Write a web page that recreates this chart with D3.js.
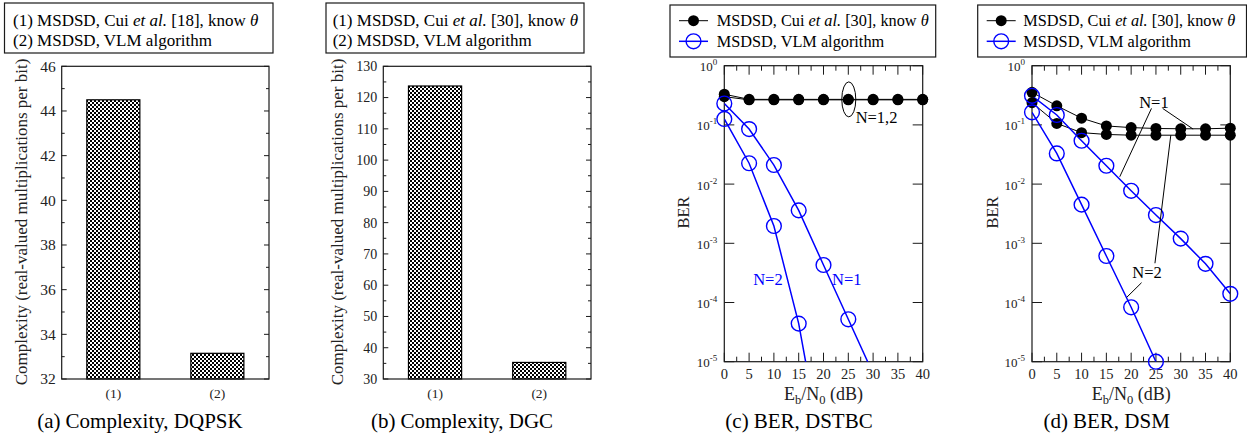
<!DOCTYPE html>
<html>
<head>
<meta charset="utf-8">
<script src="https://cdn.jsdelivr.net/npm/d3@7"></script>
<style>
body { margin: 0; background: #fff; }
svg { font-family: "Liberation Serif", "Times New Roman", serif; }
</style>
</head>
<body>
<svg id="fig" width="1247" height="435"></svg>
<script>
// bar charts (a), (b)
const barCats = ["(1)", "(2)"];
const dqpskComplexity = [44.5, 33.15];
const dgcComplexity = [123.7, 35.3];
const dqpskTicks = [32, 34, 36, 38, 40, 42, 44, 46];
const dgcTicks = [30, 40, 50, 60, 70, 80, 90, 100, 110, 120, 130];

// BER curves (c), (d)
const snrDb = [0, 5, 10, 15, 20, 25, 30, 35, 40];
const snrTicks = [0, 5, 10, 15, 20, 25, 30, 35, 40];
const berTicks = [1, 1e-1, 1e-2, 1e-3, 1e-4, 1e-5];
const berTickExp = ["0", "-1", "-2", "-3", "-4", "-5"];

const dstbcCuiN1 = [0.33, 0.27, 0.27, 0.27, 0.27, 0.27, 0.27, 0.27, 0.27];
const dstbcCuiN2 = [0.30, 0.265, 0.265, 0.265, 0.265, 0.265, 0.265, 0.265, 0.265];
const dstbcVlmN1 = [0.23, 0.085, 0.021, 0.0036, 4.3e-4, 5.2e-5, 6.3e-6];
const dstbcVlmN2 = [0.126, 0.0225, 0.00196, 4.4e-5, 2.2e-7];

const dsmCuiN1 = [0.355, 0.21, 0.13, 0.096, 0.09, 0.087, 0.086, 0.086, 0.088];
const dsmCuiN2 = [0.237, 0.106, 0.074, 0.069, 0.067, 0.067, 0.067, 0.067, 0.067];
const dsmVlmN1 = [0.31, 0.147, 0.054, 0.0204, 0.0077, 0.003, 0.0012, 4.5e-4, 1.4e-4];
const dsmVlmN2 = [0.163, 0.033, 0.0045, 6.1e-4, 8.3e-5, 1e-5];

const FRAME = "#1a1a1a";
const BLUE = "#0000ff";

var svg = d3.select("#fig");
var defs = svg.append("defs");

var pat = defs.append("pattern")
	.attr("id", "check")
	.attr("patternUnits", "userSpaceOnUse")
	.attr("width", 4)
	.attr("height", 4);
pat.append("rect").attr("width", 4).attr("height", 4).attr("fill", "#000");
pat.append("rect").attr("x", 0).attr("y", 0).attr("width", 2).attr("height", 2).attr("fill", "#fff");
pat.append("rect").attr("x", 2).attr("y", 2).attr("width", 2).attr("height", 2).attr("fill", "#fff");

function legendText(t, num, ref) {
	var prefix = num ? num + " " : "";
	t.append("tspan").text(prefix + "MSDSD, Cui ");
	t.append("tspan").attr("font-style", "italic").text("et al.");
	t.append("tspan").text(" [" + ref + "], know ");
	t.append("tspan").attr("font-style", "italic").text("\u03b8");
}

function caption(g, cx, letter, title) {
	var t = g.append("text")
		.attr("x", cx)
		.attr("y", 428)
		.attr("text-anchor", "middle")
		.attr("font-size", 21);
	t.append("tspan").text("(" + letter + ")");
	t.append("tspan").attr("dx", 5).text(title);
}

function drawBarPanel(cfg) {
	var g = svg.append("g");
	var top = 66.3, bottom = 379;

	var x = d3.scaleBand()
		.domain(barCats)
		.range([cfg.left, cfg.right])
		.paddingInner(0.49)
		.paddingOuter(0.2415);
	var y = d3.scaleLinear()
		.domain([cfg.ticks[0], cfg.ticks[cfg.ticks.length - 1]])
		.range([bottom, top]);

	g.selectAll(".bar")
		.data(cfg.values)
		.enter().append("rect")
		.attr("class", "bar")
		.attr("x", function (d, i) { return x(barCats[i]); })
		.attr("y", function (d) { return y(d); })
		.attr("width", x.bandwidth())
		.attr("height", function (d) { return y.range()[0] - y(d); })
		.attr("fill", "url(#check)")
		.attr("stroke", "#000")
		.attr("stroke-width", 1.2);

	g.append("rect")
		.attr("x", cfg.left)
		.attr("y", top)
		.attr("width", cfg.right - cfg.left)
		.attr("height", bottom - top)
		.attr("fill", "none")
		.attr("stroke", FRAME)
		.attr("stroke-width", 1.2);

	var minor = [];
	for (var i = 0; i < cfg.ticks.length - 1; i++)
		minor.push((cfg.ticks[i] + cfg.ticks[i + 1]) / 2);

	var tickData = cfg.ticks.map(function (v) { return {v: v, len: 5}; })
		.concat(minor.map(function (v) { return {v: v, len: 3}; }));

	tickData.forEach(function (d) {
		g.append("line")
			.attr("x1", cfg.left).attr("x2", cfg.left + d.len)
			.attr("y1", y(d.v)).attr("y2", y(d.v))
			.attr("stroke", FRAME);
		g.append("line")
			.attr("x1", cfg.right - d.len).attr("x2", cfg.right)
			.attr("y1", y(d.v)).attr("y2", y(d.v))
			.attr("stroke", FRAME);
	});

	g.selectAll(".ytl")
		.data(cfg.ticks)
		.enter().append("text")
		.attr("x", cfg.left - 6)
		.attr("y", function (d) { return y(d); })
		.attr("dy", "0.35em")
		.attr("text-anchor", "end")
		.attr("font-size", cfg.tickFont)
		.attr("fill", "#222")
		.text(function (d) { return d; });

	g.selectAll(".xtl")
		.data(barCats)
		.enter().append("text")
		.attr("x", function (d) { return x(d) + x.bandwidth() / 2; })
		.attr("y", 397.5)
		.attr("text-anchor", "middle")
		.attr("font-size", 13.5)
		.attr("fill", "#222")
		.text(function (d) { return d; });

	g.append("text")
		.attr("transform", "translate(" + cfg.labelX + ",222) rotate(-90)")
		.attr("text-anchor", "middle")
		.attr("dy", "0.35em")
		.attr("font-size", 17)
		.attr("fill", "#222")
		.text("Complexity (real-valued multiplications per bit)");

	// legend
	g.append("rect")
		.attr("x", cfg.legend[0]).attr("y", 3)
		.attr("width", cfg.legend[1] - cfg.legend[0]).attr("height", 50)
		.attr("fill", "#fff")
		.attr("stroke", FRAME)
		.attr("stroke-width", 1.2);
	var t1 = g.append("text").attr("x", cfg.legend[2]).attr("y", 25.5).attr("font-size", 17);
	legendText(t1, "(1)", cfg.ref);
	g.append("text").attr("x", cfg.legend[2]).attr("y", 46).attr("font-size", 17)
		.text("(2) MSDSD, VLM algorithm");

	caption(g, cfg.capX, cfg.letter, cfg.title);
}

function drawBerPanel(cfg) {
	var g = svg.append("g");
	var top = 65.7, bottom = 361.7;

	var x = d3.scaleLinear().domain([0, 40]).range([cfg.left, cfg.right]);
	var y = d3.scaleLog().domain([1e-5, 1]).range([bottom, top]);

	var clipId = "clip-" + cfg.letter;
	defs.append("clipPath").attr("id", clipId)
		.append("rect")
		.attr("x", cfg.left).attr("y", top)
		.attr("width", cfg.right - cfg.left).attr("height", bottom - top);

	// ticks
	var xMinor = d3.range(2.5, 40, 5);
	snrTicks.forEach(function (v) {
		g.append("line").attr("x1", x(v)).attr("x2", x(v)).attr("y1", bottom).attr("y2", bottom - 9).attr("stroke", FRAME);
		g.append("line").attr("x1", x(v)).attr("x2", x(v)).attr("y1", top).attr("y2", top + 9).attr("stroke", FRAME);
	});
	xMinor.forEach(function (v) {
		g.append("line").attr("x1", x(v)).attr("x2", x(v)).attr("y1", bottom).attr("y2", bottom - 5).attr("stroke", FRAME);
		g.append("line").attr("x1", x(v)).attr("x2", x(v)).attr("y1", top).attr("y2", top + 5).attr("stroke", FRAME);
	});
	berTicks.forEach(function (v) {
		g.append("line").attr("x1", cfg.left).attr("x2", cfg.left + 10).attr("y1", y(v)).attr("y2", y(v)).attr("stroke", FRAME);
		g.append("line").attr("x1", cfg.right - 10).attr("x2", cfg.right).attr("y1", y(v)).attr("y2", y(v)).attr("stroke", FRAME);
	});

	g.append("rect")
		.attr("x", cfg.left).attr("y", top)
		.attr("width", cfg.right - cfg.left).attr("height", bottom - top)
		.attr("fill", "none")
		.attr("stroke", FRAME)
		.attr("stroke-width", 1.2);

	// tick labels
	berTicks.forEach(function (v, i) {
		var t = g.append("text")
			.attr("x", cfg.left - 7)
			.attr("y", y(v) + 5.5)
			.attr("text-anchor", "end")
			.attr("font-size", 13)
			.attr("fill", "#222");
		t.append("tspan").text("10");
		t.append("tspan").attr("dy", -6).attr("font-size", 9).text(berTickExp[i]);
	});
	g.selectAll(".xtl")
		.data(snrTicks)
		.enter().append("text")
		.attr("x", function (d) { return x(d); })
		.attr("y", 379)
		.attr("text-anchor", "middle")
		.attr("font-size", 14.5)
		.attr("fill", "#222")
		.text(function (d) { return d; });

	var xl = g.append("text")
		.attr("x", (cfg.left + cfg.right) / 2)
		.attr("y", 400)
		.attr("text-anchor", "middle")
		.attr("font-size", 18)
		.attr("fill", "#222");
	xl.append("tspan").text("E");
	xl.append("tspan").attr("dy", 3.5).attr("font-size", 12.5).text("b");
	xl.append("tspan").attr("dy", -3.5).text("/N");
	xl.append("tspan").attr("dy", 3.5).attr("font-size", 12.5).text("0");
	xl.append("tspan").attr("dy", -3.5).text(" (dB)");

	g.append("text")
		.attr("transform", "translate(" + cfg.labelX + ",212.5) rotate(-90)")
		.attr("text-anchor", "middle")
		.attr("dy", "0.35em")
		.attr("font-size", 16.5)
		.attr("fill", "#222")
		.text("BER");

	var line = d3.line()
		.x(function (d, i) { return x(snrDb[i]); })
		.y(function (d) { return y(d); });

	var plot = g.append("g").attr("clip-path", "url(#" + clipId + ")");

	cfg.cui.forEach(function (s) {
		plot.append("path").attr("d", line(s)).attr("fill", "none").attr("stroke", "#000").attr("stroke-width", 1);
	});
	cfg.vlm.forEach(function (s) {
		plot.append("path").attr("d", line(s)).attr("fill", "none").attr("stroke", BLUE).attr("stroke-width", 1.5);
	});

	cfg.cui.forEach(function (s) {
		g.selectAll(null)
			.data(s.filter(function (d) { return d >= 1e-5; }))
			.enter().append("circle")
			.attr("cx", function (d, i) { return x(snrDb[i]); })
			.attr("cy", function (d) { return y(d); })
			.attr("r", 5.5)
			.attr("fill", "#000");
	});
	cfg.vlm.forEach(function (s) {
		g.selectAll(null)
			.data(s.filter(function (d) { return d >= 1e-5; }))
			.enter().append("circle")
			.attr("cx", function (d, i) { return x(snrDb[i]); })
			.attr("cy", function (d) { return y(d); })
			.attr("r", 7.4)
			.attr("fill", "none")
			.attr("stroke", BLUE)
			.attr("stroke-width", 1.4);
	});

	// annotations
	cfg.notes.forEach(function (n) {
		g.append("text")
			.attr("x", x(n.x)).attr("y", y(n.y))
			.attr("dy", "0.35em")
			.attr("text-anchor", "middle")
			.attr("font-size", 16.5)
			.attr("fill", n.color)
			.text(n.text);
	});
	cfg.pointers.forEach(function (p) {
		g.append("line")
			.attr("x1", x(p[0])).attr("y1", y(p[1]))
			.attr("x2", x(p[2])).attr("y2", y(p[3]))
			.attr("stroke", "#000").attr("stroke-width", 1);
	});
	if (cfg.ellipse) {
		g.append("ellipse")
			.attr("cx", x(cfg.ellipse[0])).attr("cy", y(cfg.ellipse[1]))
			.attr("rx", 7).attr("ry", 17.5)
			.attr("fill", "none").attr("stroke", "#000").attr("stroke-width", 1);
	}

	// legend
	var L = cfg.legend;
	g.append("rect")
		.attr("x", L[0]).attr("y", 5)
		.attr("width", L[1] - L[0]).attr("height", 52)
		.attr("fill", "#fff")
		.attr("stroke", FRAME)
		.attr("stroke-width", 1.2);
	var rows = [20.7, 41.3];
	g.append("line").attr("x1", L[2]).attr("x2", L[2] + 29).attr("y1", rows[0]).attr("y2", rows[0]).attr("stroke", "#000");
	g.append("circle").attr("cx", L[2] + 14.5).attr("cy", rows[0]).attr("r", 5.5).attr("fill", "#000");
	g.append("line").attr("x1", L[2]).attr("x2", L[2] + 29).attr("y1", rows[1]).attr("y2", rows[1]).attr("stroke", BLUE).attr("stroke-width", 1.5);
	g.append("circle").attr("cx", L[2] + 14.5).attr("cy", rows[1]).attr("r", 7.4).attr("fill", "none").attr("stroke", BLUE).attr("stroke-width", 1.4);
	var t1 = g.append("text").attr("x", L[3]).attr("y", rows[0] + 5.5).attr("font-size", 16.3);
	legendText(t1, "", 30);
	g.append("text").attr("x", L[3]).attr("y", rows[1] + 5.5).attr("font-size", 16.3)
		.text("MSDSD, VLM algorithm");

	caption(g, cfg.capX, cfg.letter, cfg.title);
}

drawBarPanel({
	left: 61.7, right: 269, values: dqpskComplexity, ticks: dqpskTicks, tickFont: 15.5,
	labelX: 21, legend: [4.5, 273, 13], ref: 18,
	capX: 140, letter: "a", title: "Complexity, DQPSK"
});

drawBarPanel({
	left: 383.3, right: 591, values: dgcComplexity, ticks: dgcTicks, tickFont: 14,
	labelX: 337, legend: [326, 584, 332.7], ref: 30,
	capX: 462, letter: "b", title: "Complexity, DGC"
});

drawBerPanel({
	left: 724.3, right: 922.7, labelX: 683, letter: "c", title: "BER, DSTBC", capX: 799,
	cui: [dstbcCuiN1, dstbcCuiN2], vlm: [dstbcVlmN1, dstbcVlmN2],
	legend: [670, 935.7, 679, 716.7],
	notes: [
		{x: 30.7, y: 0.136, text: "N=1,2", color: "#000"},
		{x: 8.8, y: 2.5e-4, text: "N=2", color: BLUE},
		{x: 24.7, y: 2.5e-4, text: "N=1", color: BLUE}
	],
	pointers: [],
	ellipse: [25.1, 0.27]
});

drawBerPanel({
	left: 1032, right: 1230.3, labelX: 992, letter: "d", title: "BER, DSM", capX: 1106.7,
	cui: [dsmCuiN1, dsmCuiN2], vlm: [dsmVlmN1, dsmVlmN2],
	legend: [977.7, 1246.5, 986.7, 1023.3],
	notes: [
		{x: 24.6, y: 0.246, text: "N=1", color: "#000"},
		{x: 23.2, y: 3.2e-4, text: "N=2", color: "#000"}
	],
	pointers: [
		[24.1, 0.19, 17.7, 0.0133],
		[26.35, 0.19, 32.5, 0.085],
		[22.1, 2.16e-4, 19.1, 1.22e-4],
		[24.8, 4.6e-4, 28.0, 0.067]
	],
	ellipse: null
});
</script>
</body>
</html>
